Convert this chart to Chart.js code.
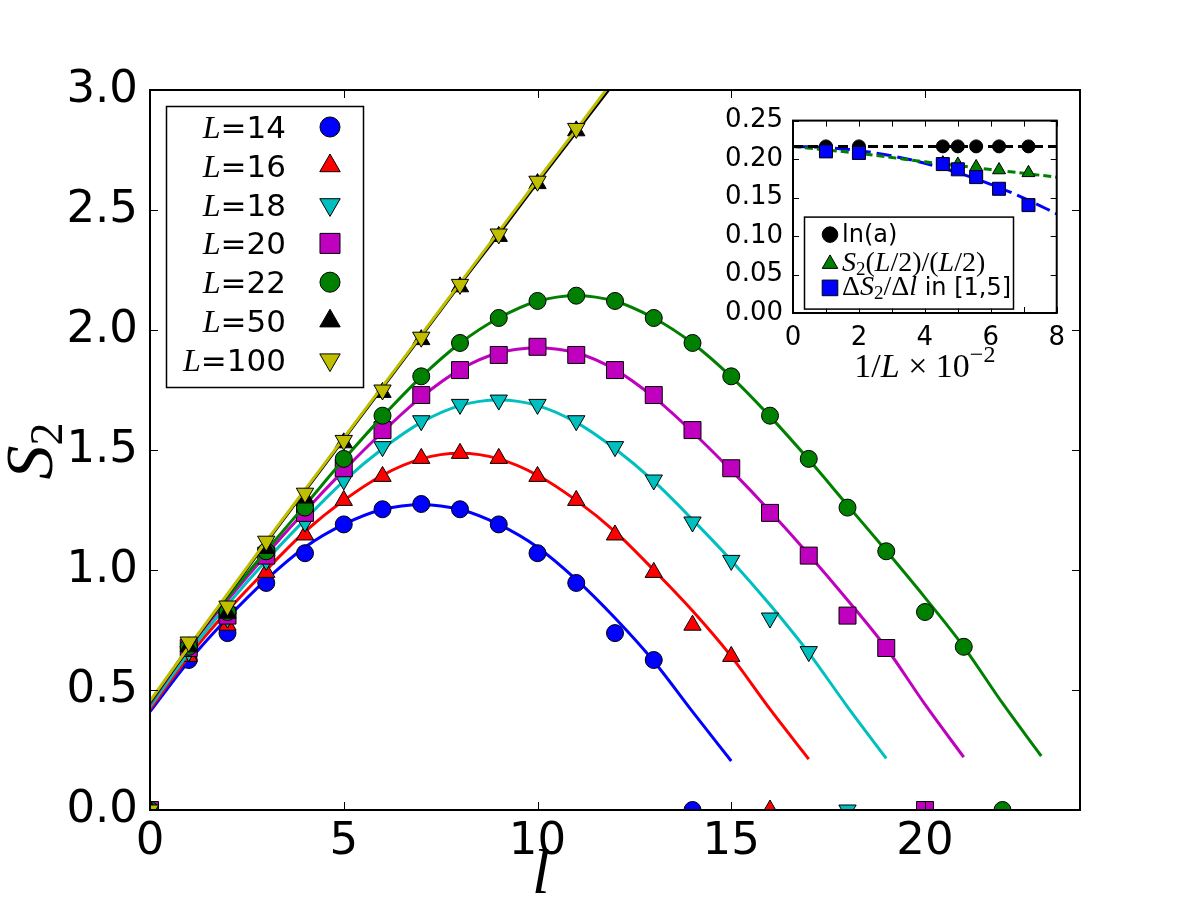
<!DOCTYPE html>
<html>
<head>
<meta charset="utf-8">
<script src="https://cdn.jsdelivr.net/npm/chart.js@4.4.1/dist/chart.umd.min.js"></script>
<style>
  html, body { margin: 0; padding: 0; background: #fff; }
  #wrap { position: relative; width: 1200px; height: 900px; }
  #main { position: absolute; left: 0; top: 0; }
  #inset { position: absolute; left: 700px; top: 95px; }
</style>
</head>
<body>
<div id="wrap">
  <canvas id="main" width="1200" height="900"></canvas>
  <canvas id="inset" width="375" height="290"></canvas>
</div>
<script>
// system sizes shown in the legend
const sizes = [14, 16, 18, 20, 22, 50, 100];

// S2 data points, index = l
const s14 = [0, 0.625, 0.737, 0.946, 1.07, 1.19, 1.253, 1.275, 1.253, 1.19, 1.07, 0.946, 0.737, 0.625, 0];
const s16 = [0, 0.64, 0.77, 0.99, 1.146, 1.29, 1.39, 1.465, 1.486, 1.465, 1.39, 1.29, 1.146, 0.99, 0.77, 0.64, 0];
const s18 = [0, 0.66, 0.80, 1.04, 1.20, 1.375, 1.514, 1.622, 1.69, 1.708, 1.69, 1.622, 1.514, 1.375, 1.20, 1.04, 0.80, 0.66, 0];
const s20 = [0, 0.675, 0.81, 1.06, 1.238, 1.424, 1.583, 1.729, 1.833, 1.896, 1.93, 1.896, 1.833, 1.729, 1.583, 1.424, 1.238, 1.06, 0.81, 0.675, 0];
const s22 = [0, 0.68, 0.825, 1.078, 1.26, 1.463, 1.643, 1.807, 1.946, 2.05, 2.121, 2.143, 2.121, 2.05, 1.946, 1.807, 1.643, 1.463, 1.26, 1.078, 0.825, 0.68, 0];
const s50 = [0, 0.68, 0.82, 1.09, 1.30, 1.53, 1.74, 1.96, 2.18, 2.39, 2.61, 2.83];
const s100 = [0, 0.70, 0.85, 1.12, 1.32, 1.54, 1.75, 1.97, 2.19, 2.40, 2.62, 2.84];

// fitted curves, index = l
const f14 = [0.41, 0.62, 0.80, 0.96, 1.095, 1.19, 1.252, 1.272, 1.252, 1.19, 1.095, 0.96, 0.80, 0.62, 0.41, 0.204];
const f16 = [0.42, 0.64, 0.83, 1.00, 1.16, 1.29, 1.395, 1.463, 1.486, 1.463, 1.395, 1.29, 1.16, 1.00, 0.83, 0.64, 0.42, 0.212];
const f18 = [0.43, 0.655, 0.855, 1.04, 1.21, 1.37, 1.505, 1.615, 1.685, 1.708, 1.685, 1.615, 1.505, 1.37, 1.21, 1.04, 0.855, 0.655, 0.43, 0.215];
const f20 = [0.44, 0.675, 0.875, 1.065, 1.245, 1.415, 1.575, 1.72, 1.835, 1.905, 1.925, 1.905, 1.835, 1.72, 1.575, 1.415, 1.245, 1.065, 0.875, 0.675, 0.44, 0.22];
const f22 = [0.445, 0.68, 0.885, 1.08, 1.27, 1.46, 1.64, 1.805, 1.945, 2.05, 2.12, 2.143, 2.12, 2.05, 1.945, 1.805, 1.64, 1.46, 1.27, 1.08, 0.885, 0.68, 0.445, 0.225];
const f50 = [0.45, 0.675, 0.895, 1.115, 1.33, 1.545, 1.76, 1.975, 2.19, 2.40, 2.615, 2.825, 3.035, 3.24];
const f100 = [0.455, 0.68, 0.90, 1.12, 1.335, 1.55, 1.765, 1.98, 2.195, 2.41, 2.625, 2.835, 3.05, 3.26];

// inset: x = 1/L * 100
const invL = [1, 2, 4.545, 5, 5.556, 6.25, 7.143];
const lnA = [0.2165, 0.2165, 0.2165, 0.2165, 0.2165, 0.2165, 0.2165];
const halfS = [0.211, 0.205, 0.1948, 0.193, 0.1898, 0.1858, 0.1821];
const slopeS = [0.210, 0.208, 0.1935, 0.1867, 0.1766, 0.1614, 0.1402];
const fitX = [0, 1, 2, 3, 4, 5, 6, 7, 8];
const fitLnA = [0.2165, 0.2165, 0.2165, 0.2165, 0.2165, 0.2165, 0.2165, 0.2165, 0.2165];
const fitHalf = [0.2165, 0.212, 0.2075, 0.202, 0.1965, 0.1915, 0.1865, 0.1815, 0.1765];
const fitSlope = [0.2165, 0.215, 0.211, 0.2042, 0.1946, 0.1823, 0.1672, 0.1494, 0.1288];

const marks = [s14, s16, s18, s20, s22, s50, s100];
const fits = [f14, f16, f18, f20, f22, f50, f100];
const colors = ['#0000ff', '#ff0000', '#00bfbf', '#bf00bf', '#008000', '#000000', '#bfbf00'];
const shapes = [
  { pointStyle: 'circle', rotation: 0, radius: 8.5 },
  { pointStyle: 'triangle', rotation: 0, radius: 10 },
  { pointStyle: 'triangle', rotation: 180, radius: 10 },
  { pointStyle: 'rect', rotation: 0, radius: 12 },
  { pointStyle: 'circle', rotation: 0, radius: 8.5 },
  { pointStyle: 'triangle', rotation: 0, radius: 10 },
  { pointStyle: 'triangle', rotation: 180, radius: 10 }
];

const SERIF = '"Liberation Serif", "DejaVu Serif", serif';
const SANS = '"DejaVu Sans", sans-serif';

// draw a row of text pieces with different fonts
function drawRuns(ctx, runs, x, y, align) {
  let w = 0;
  runs.forEach(r => { ctx.font = r.font; r.w = ctx.measureText(r.t).width; w += r.w; });
  let cx = align === 'right' ? x - w : align === 'center' ? x - w / 2 : x;
  runs.forEach(r => { ctx.font = r.font; ctx.fillText(r.t, cx, y + (r.dy || 0)); cx += r.w; });
}

function marker(ctx, shape, color, x, y, scale) {
  ctx.fillStyle = color;
  ctx.strokeStyle = '#000';
  ctx.lineWidth = 1;
  Chart.helpers.drawPoint(ctx, {
    pointStyle: shape.pointStyle, rotation: shape.rotation,
    radius: shape.radius * scale, borderWidth: 1
  }, x, y);
}

// box round the plot area plus inward ticks on all four sides
const frameTicks = {
  id: 'frameTicks',
  afterDatasetsDraw(chart, args, opts) {
    const { ctx, chartArea: a } = chart;
    const xs = chart.scales.x, ys = chart.scales.y;
    ctx.save();
    ctx.strokeStyle = '#000';
    ctx.lineWidth = 1;
    ctx.beginPath();
    xs.ticks.forEach(t => {
      const p = Math.round(xs.getPixelForValue(t.value)) + 0.5;
      ctx.moveTo(p, a.bottom); ctx.lineTo(p, a.bottom - opts.len);
      ctx.moveTo(p, a.top); ctx.lineTo(p, a.top + opts.len);
    });
    ys.ticks.forEach(t => {
      const p = Math.round(ys.getPixelForValue(t.value)) + 0.5;
      ctx.moveTo(a.left, p); ctx.lineTo(a.left + opts.len, p);
      ctx.moveTo(a.right, p); ctx.lineTo(a.right - opts.len, p);
    });
    ctx.stroke();
    ctx.lineWidth = opts.frame;
    ctx.strokeRect(a.left, a.top, a.right - a.left, a.bottom - a.top);
    ctx.restore();
  }
};

const mainDecor = {
  id: 'mainDecor',
  afterDraw(chart) {
    const { ctx, chartArea: a } = chart;
    ctx.save();
    // legend
    const bx = a.left + 16, by = a.top + 16, bw = 197, bh = 281;
    ctx.fillStyle = '#fff';
    ctx.fillRect(bx, by, bw, bh);
    ctx.strokeStyle = '#000';
    ctx.lineWidth = 1.5;
    ctx.strokeRect(bx + 0.5, by + 0.5, bw, bh);
    sizes.forEach((L, i) => {
      const cy = by + 21 + i * 38.8;
      ctx.fillStyle = '#000';
      ctx.textBaseline = 'alphabetic';
      drawRuns(ctx, [
        { t: 'L', font: 'italic 32px ' + SERIF },
        { t: '=' + L, font: '31px ' + SANS }
      ], bx + 120, cy + 11, 'right');
      marker(ctx, shapes[i], colors[i], bx + 164, cy, 1.18);
    });
    // axis titles
    ctx.fillStyle = '#000';
    drawRuns(ctx, [{ t: 'l', font: 'italic 64px ' + SERIF }], 541, 893, 'center');
    ctx.translate(52, 451);
    ctx.rotate(-Math.PI / 2);
    drawRuns(ctx, [
      { t: 'S', font: 'italic 68px ' + SERIF },
      { t: '2', font: '46px ' + SERIF, dy: 10 }
    ], 0, 0, 'center');
    ctx.restore();
  }
};

const mainSets = [];
marks.forEach((arr, i) => {
  mainSets.push({
    label: 'fit L=' + sizes[i],
    data: fits[i].map((v, l) => ({ x: l, y: v })),
    showLine: true, pointRadius: 0, borderColor: colors[i], borderWidth: 3,
    cubicInterpolationMode: 'monotone', order: 21 - 2 * i, clip: 0
  });
  mainSets.push({
    label: 'L=' + sizes[i],
    data: arr.map((v, l) => ({ x: l, y: v })),
    showLine: false,
    pointStyle: shapes[i].pointStyle, pointRotation: shapes[i].rotation,
    pointRadius: shapes[i].radius, pointBackgroundColor: colors[i],
    pointBorderColor: '#000', pointBorderWidth: 1,
    order: 20 - 2 * i, clip: 0
  });
});

new Chart(document.getElementById('main'), {
  type: 'scatter',
  data: { datasets: mainSets },
  options: {
    responsive: false, animation: false, events: [],
    layout: { padding: { left: 0, right: 120, top: 90, bottom: 0 } },
    plugins: { legend: { display: false }, tooltip: { enabled: false }, frameTicks: { len: 8, frame: 2 } },
    scales: {
      x: {
        type: 'linear', min: 0, max: 24,
        grid: { display: false, drawTicks: false }, border: { display: false },
        ticks: { stepSize: 5, includeBounds: false, color: '#000', padding: 5, maxRotation: 0,
                 font: { family: 'DejaVu Sans', size: 45 } },
        afterFit: s => { s.height = 90; }
      },
      y: {
        min: 0, max: 3,
        grid: { display: false, drawTicks: false }, border: { display: false },
        ticks: { stepSize: 0.5, color: '#000', padding: 12, callback: v => v.toFixed(1),
                 font: { family: 'DejaVu Sans', size: 45 } },
        afterFit: s => { s.width = 150; }
      }
    }
  },
  plugins: [frameTicks, mainDecor]
});

// ---------- inset ----------
const insetShapes = [
  { pointStyle: 'circle', rotation: 0, radius: 6.5 },
  { pointStyle: 'triangle', rotation: 0, radius: 7.5 },
  { pointStyle: 'rect', rotation: 0, radius: 9.2 }
];
const insetColors = ['#000000', '#008000', '#0000ff'];

const insetDecor = {
  id: 'insetDecor',
  afterDraw(chart) {
    const { ctx, chartArea: a } = chart;
    ctx.save();
    const bx = a.left + 11, by = a.top + 96, bw = 209, bh = 92;
    ctx.fillStyle = '#fff';
    ctx.fillRect(bx, by, bw, bh);
    ctx.strokeStyle = '#000';
    ctx.lineWidth = 1.5;
    ctx.strokeRect(bx + 0.5, by + 0.5, bw, bh);
    const rows = [
      [{ t: 'ln(a)', font: '24px ' + SANS }],
      [{ t: 'S', font: 'italic 28px ' + SERIF }, { t: '2', font: '19px ' + SERIF, dy: 4 },
       { t: '(', font: '28px ' + SERIF }, { t: 'L', font: 'italic 28px ' + SERIF },
       { t: '/2)/(', font: '28px ' + SERIF }, { t: 'L', font: 'italic 28px ' + SERIF },
       { t: '/2)', font: '28px ' + SERIF }],
      [{ t: 'Δ', font: '28px ' + SERIF }, { t: 'S', font: 'italic 28px ' + SERIF },
       { t: '2', font: '19px ' + SERIF, dy: 4 }, { t: '/Δ', font: '28px ' + SERIF },
       { t: 'l', font: 'italic 28px ' + SERIF }, { t: ' in [1,5]', font: '24px ' + SANS }]
    ];
    const centers = [18, 47.3, 71.3];
    rows.forEach((runs, i) => {
      marker(ctx, insetShapes[i], insetColors[i], bx + 26, by + centers[i], 1.2);
      ctx.fillStyle = '#000';
      drawRuns(ctx, runs, bx + 38, by + centers[i] + 7, 'left');
    });
    ctx.fillStyle = '#000';
    drawRuns(ctx, [
      { t: '1/', font: '34px ' + SERIF }, { t: 'L', font: 'italic 34px ' + SERIF },
      { t: ' × ', font: '34px ' + SERIF }, { t: '10', font: '34px ' + SERIF },
      { t: '−2', font: '24px ' + SERIF, dy: -15 }
    ], (a.left + a.right) / 2, 282, 'center');
    ctx.restore();
  }
};

const toPts = (xs, ys) => ys.map((v, k) => ({ x: xs[k], y: v }));
const insetSets = [
  { label: 'ln(a)', data: toPts(invL, lnA), order: 3 },
  { label: 'S2(L/2)/(L/2)', data: toPts(invL, halfS), order: 2 },
  { label: 'dS2/dl in [1,5]', data: toPts(invL, slopeS), order: 1 }
].map((d, i) => Object.assign(d, {
  showLine: false, pointStyle: insetShapes[i].pointStyle, pointRadius: insetShapes[i].radius,
  pointBackgroundColor: insetColors[i], pointBorderColor: '#000', pointBorderWidth: 1, clip: 0
}));
insetSets.push(
  { label: 'fit ln(a)', data: toPts(fitX, fitLnA), borderDash: [10, 5], borderColor: '#000000' },
  { label: 'fit half', data: toPts(fitX, fitHalf), borderDash: [8, 4], borderColor: '#008000' },
  { label: 'fit slope', data: toPts(fitX, fitSlope), borderDash: [15, 6], borderColor: '#0000ff' }
);
insetSets.slice(3).forEach(d => Object.assign(d, {
  showLine: true, pointRadius: 0, borderWidth: 3, cubicInterpolationMode: 'monotone', order: 6, clip: 0
}));

new Chart(document.getElementById('inset'), {
  type: 'scatter',
  data: { datasets: insetSets },
  options: {
    responsive: false, animation: false, events: [],
    layout: { padding: { left: 0, right: 16, top: 21, bottom: 0 } },
    plugins: { legend: { display: false }, tooltip: { enabled: false }, frameTicks: { len: 6, frame: 2 } },
    scales: {
      x: {
        type: 'linear', min: 0, max: 8,
        grid: { display: false, drawTicks: false }, border: { display: false },
        ticks: { stepSize: 1, autoSkip: false, color: '#000', padding: 10, maxRotation: 0,
                 callback: v => (v % 2 === 0 ? String(v) : ''),
                 font: { family: 'DejaVu Sans', size: 26 } },
        afterFit: s => { s.height = 72; }
      },
      y: {
        min: 0, max: 0.25,
        grid: { display: false, drawTicks: false }, border: { display: false },
        ticks: { stepSize: 0.05, color: '#000', padding: 10, callback: v => v.toFixed(2),
                 font: { family: 'DejaVu Sans', size: 26 } },
        afterFit: s => { s.width = 93; }
      }
    }
  },
  plugins: [frameTicks, insetDecor]
});
</script>
</body>
</html>
